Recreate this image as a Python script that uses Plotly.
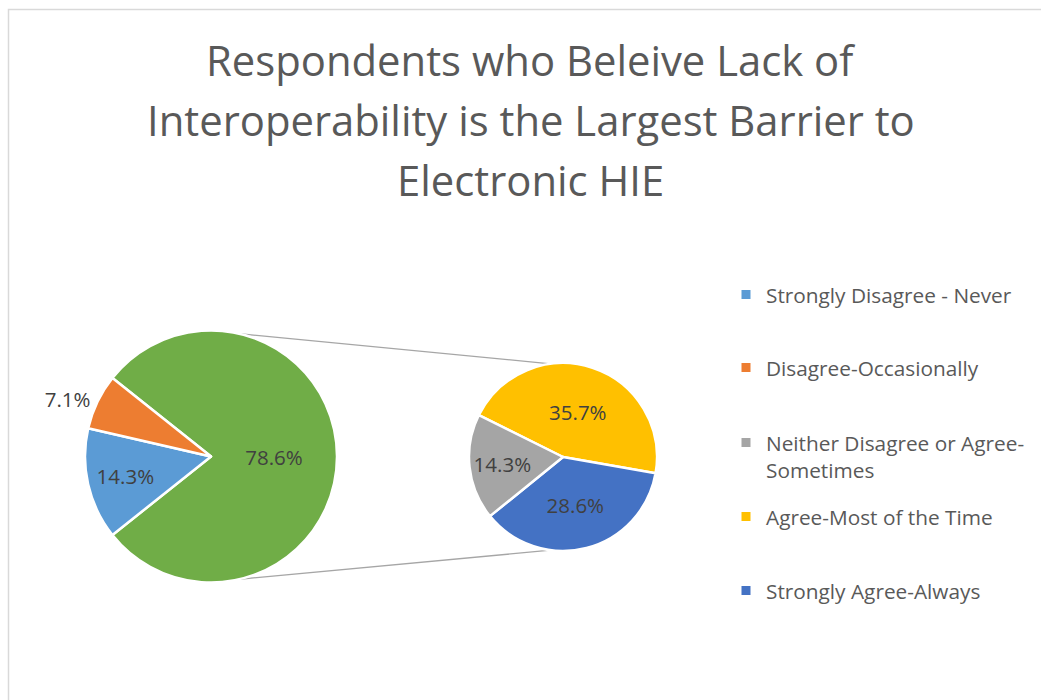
import math
import plotly.graph_objects as go

# ---- data -------------------------------------------------------------
title_lines = [
    "Respondents who Beleive Lack of",
    "Interoperability is the Largest Barrier to",
    "Electronic HIE",
]
categories = [
    "Strongly Disagree - Never",
    "Disagree-Occasionally",
    "Neither Disagree or Agree-Sometimes",
    "Agree-Most of the Time",
    "Strongly Agree-Always",
]
legend_labels = [
    "Strongly Disagree - Never",
    "Disagree-Occasionally",
    "Neither Disagree or Agree-<br>Sometimes",
    "Agree-Most of the Time",
    "Strongly Agree-Always",
]
shares = [14.3, 7.1, 14.3, 35.7, 28.6]  # percent of respondents
colors = ["#5B9BD5", "#ED7D31", "#A5A5A5", "#FFC000", "#4472C4"]
other_label = "Other"
other_color = "#70AD47"

# ---- layout constants (pixels) ------------------------------------------
W, H = 1041, 700
FONT = "Open Sans"
TEXT_COLOR = "#595959"
LABEL_COLOR = "#404040"

MAIN_C, MAIN_R = (211, 456.5), 126
SEC_C, SEC_R = (563, 457), 94


def px_domain(center, r):
    cx, cy = center
    return dict(x=[(cx - r) / W, (cx + r) / W], y=[1 - (cy + r) / H, 1 - (cy - r) / H])


def px_to_paper(x, y):
    return x / W, 1 - y / H


def rim_point(center, r, deg):
    cx, cy = center
    a = math.radians(deg)
    return px_to_paper(cx + r * math.cos(a), cy - r * math.sin(a))


# first pie: the two disagree categories plus the combined remainder
other_value = round(sum(shares[2:]), 1)
main_labels = [other_label, categories[0], categories[1]]
main_values = [other_value, shares[0], shares[1]]
main_colors = [other_color, colors[0], colors[1]]
# remainder slice is centred on 3 o'clock
main_rotation = 90 - 360 * other_value / sum(main_values) / 2

# second pie: breakdown of the remainder
sec_order = [3, 4, 2]
sec_labels = [categories[i] for i in sec_order]
sec_values = [shares[i] for i in sec_order]
sec_colors = [colors[i] for i in sec_order]

fig = go.Figure()

fig.add_trace(go.Pie(
    labels=main_labels, values=main_values, sort=False, direction="clockwise",
    rotation=main_rotation, domain=px_domain(MAIN_C, MAIN_R),
    marker=dict(colors=main_colors, line=dict(color="white", width=2.5)),
    texttemplate="%{value:.1f}%", textposition=["inside", "inside", "outside"],
    insidetextorientation="horizontal",
    textfont=dict(family=FONT, size=20.5, color=LABEL_COLOR),
    showlegend=False, hoverinfo="label+value",
))

fig.add_trace(go.Pie(
    labels=sec_labels, values=sec_values, sort=False, direction="clockwise",
    rotation=-63.5, domain=px_domain(SEC_C, SEC_R),
    marker=dict(colors=sec_colors, line=dict(color="white", width=2.5)),
    texttemplate="%{value:.1f}%", textposition="inside",
    insidetextorientation="horizontal",
    textfont=dict(family=FONT, size=20.5, color=LABEL_COLOR),
    showlegend=False, hoverinfo="label+value",
))

# legend entries, one legend box per category
legend_rows_px = [295, 368, 456.5, 517, 591]
legend_x_px = 726
legend_layouts = {}
for i, (lab, col) in enumerate(zip(legend_labels, colors)):
    key = "legend" if i == 0 else f"legend{i + 1}"
    fig.add_trace(go.Scatter(
        x=[None], y=[None], mode="markers", name=lab,
        marker=dict(symbol="square", size=9, color=col),
        legend=key, showlegend=True,
    ))
    lx, ly = px_to_paper(legend_x_px, legend_rows_px[i])
    legend_layouts[key] = dict(
        x=lx, y=ly, xanchor="left", yanchor="middle",
        valign="top", bgcolor="rgba(0,0,0,0)", borderwidth=0,
        font=dict(family=FONT, size=20.8, color=TEXT_COLOR),
        itemclick=False, itemdoubleclick=False,
    )

# connector lines between the two pies
shapes = []
for sgn in (1, -1):
    x0, y0 = rim_point(MAIN_C, MAIN_R, sgn * 77)
    x1, y1 = rim_point(SEC_C, SEC_R, sgn * 97.5)
    shapes.append(dict(type="line", xref="paper", yref="paper", x0=x0, y0=y0, x1=x1, y1=y1,
                       line=dict(color="#A6A6A6", width=1.3), layer="below"))

# chart area border
bx0, by0 = px_to_paper(8.5, 9.5)
shapes.append(dict(type="rect", xref="paper", yref="paper", x0=bx0, y0=-0.05, x1=1.05, y1=by0,
                   line=dict(color="#D9D9D9", width=1.5), fillcolor="rgba(0,0,0,0)", layer="below"))

# title, one annotation per line
annotations = []
title_rows_px = [59, 119, 179]
for line, ypx in zip(title_lines, title_rows_px):
    tx, ty = px_to_paper(530.5, ypx)
    annotations.append(dict(text=line, x=tx, y=ty, xref="paper", yref="paper",
                            xanchor="center", yanchor="middle", showarrow=False,
                            font=dict(family=FONT, size=41.8, color=TEXT_COLOR)))

fig.update_layout(
    width=W, height=H, margin=dict(l=0, r=0, t=0, b=0),
    paper_bgcolor="white", plot_bgcolor="white",
    xaxis=dict(visible=False), yaxis=dict(visible=False),
    shapes=shapes, annotations=annotations,
    **legend_layouts,
)

fig.write_html("out.html")
